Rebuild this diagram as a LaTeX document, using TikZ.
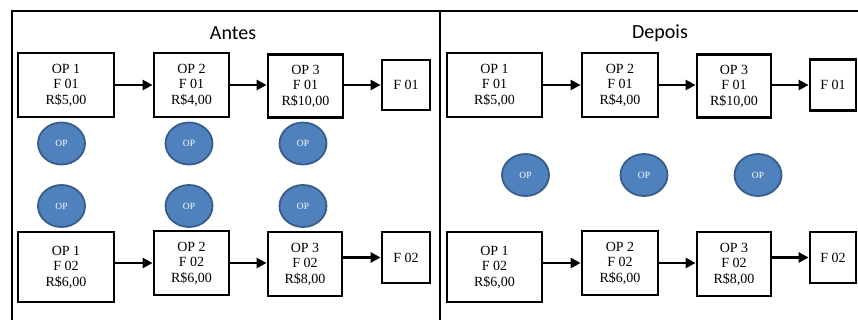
\documentclass[tikz,border=0pt]{standalone}
\usepackage{fontspec}
\setmainfont{Liberation Serif}
\newfontfamily\titlefont{Carlito}
\usetikzlibrary{arrows.meta,shapes.geometric}
\definecolor{opfill}{HTML}{4F81BD}
\definecolor{opedge}{HTML}{385D8A}
\tikzset{
  boxnode/.style={draw=black, line width=2.8pt, fill=white, align=center, inner sep=0pt,
    font=\fontsize{14}{15.5}\selectfont},
  opnode/.style={ellipse, draw=opedge, line width=1.8pt, fill=opfill, text=white,
    minimum width=47pt, minimum height=42pt, inner sep=0pt, font=\fontsize{9.5}{10}\selectfont},
  arr/.style={line width=2.8pt, -{Triangle[length=10pt,width=10pt]}},
  frame/.style={line width=2.2pt, black},
  titlenode/.style={font=\titlefont\fontsize{20}{22}\selectfont}
}
\begin{document}
\begin{tikzpicture}[x=1pt,y=-1pt]
\useasboundingbox (0,0) rectangle (858,320);
\fill[white] (0,0) rectangle (858,320);
% frame
\coordinate (tl) at (12,11);
\coordinate (tr) at (858,11);
\coordinate (bl) at (12,320);
\coordinate (dt) at (440,11);
\coordinate (db) at (440,320);
\draw[frame] (bl) -- (tl) -- (tr);
\draw[frame] (dt) -- (db);
% titles
\node[titlenode] (t1) at (233,33) {Antes};
\node[titlenode] (t2) at (660,33) {Depois};

% ---------- Antes ----------
\node[boxnode, minimum width=96pt, minimum height=64pt] (a1) at (66,85) {OP 1\\F 01\\R\$5,00};
\node[boxnode, minimum width=75pt, minimum height=64pt] (a2) at (191.5,85) {OP 2\\F 01\\R\$4,00};
\node[boxnode, minimum width=75pt, minimum height=63pt] (a3) at (305.5,86) {OP 3\\F 01\\R\$10,00};
\node[boxnode, minimum width=48pt, minimum height=50pt] (a4) at (406,85) {F 01};
\draw[arr] (a1) -- (a2);
\draw[arr] (a2.east) -- (a3.west |- a2.east);
\draw[arr] (a3.east |- a4.west) -- (a4.west);

\node[opnode] (c1) at (61.5,143.5) {OP};
\node[opnode] (c2) at (189,143.5) {OP};
\node[opnode] (c3) at (303,143.5) {OP};
\node[opnode] (c4) at (61.5,206) {OP};
\node[opnode] (c5) at (189,206) {OP};
\node[opnode] (c6) at (303,206) {OP};

\node[boxnode, minimum width=96pt, minimum height=70pt] (b1) at (66,267) {OP 1\\F 02\\R\$6,00};
\node[boxnode, minimum width=75pt, minimum height=64pt] (b2) at (191.5,263) {OP 2\\F 02\\R\$6,00};
\node[boxnode, minimum width=74pt, minimum height=64pt] (b3) at (305,264) {OP 3\\F 02\\R\$8,00};
\node[boxnode, minimum width=48pt, minimum height=51pt] (b4) at (406,257.5) {F 02};
\draw[arr] (b1.east |- b2.west) -- (b2.west);
\draw[arr] (b2.east) -- (b3.west |- b2.east);
\draw[arr] (b3.east |- b4.west) -- (b4.west);

% ---------- Depois ----------
\node[boxnode, minimum width=95pt, minimum height=64pt] (d1) at (494.5,85) {OP 1\\F 01\\R\$5,00};
\node[boxnode, minimum width=76pt, minimum height=64pt] (d2) at (620,85) {OP 2\\F 01\\R\$4,00};
\node[boxnode, minimum width=74pt, minimum height=63pt] (d3) at (734,86) {OP 3\\F 01\\R\$10,00};
\node[boxnode, minimum width=46pt, minimum height=51pt] (d4) at (833,85) {F 01};
\draw[arr] (d1) -- (d2);
\draw[arr] (d2.east) -- (d3.west |- d2.east);
\draw[arr] (d3.east |- d4.west) -- (d4.west);

\node[opnode] (e1) at (525.5,175) {OP};
\node[opnode] (e2) at (644,175) {OP};
\node[opnode] (e3) at (758,175) {OP};

\node[boxnode, minimum width=95pt, minimum height=70pt] (f1) at (494.5,267) {OP 1\\F 02\\R\$6,00};
\node[boxnode, minimum width=76pt, minimum height=64pt] (f2) at (620,263) {OP 2\\F 02\\R\$6,00};
\node[boxnode, minimum width=74pt, minimum height=64pt] (f3) at (734,264) {OP 3\\F 02\\R\$8,00};
\node[boxnode, minimum width=46pt, minimum height=51pt] (f4) at (833,257.5) {F 02};
\draw[arr] (f1.east |- f2.west) -- (f2.west);
\draw[arr] (f2.east) -- (f3.west |- f2.east);
\draw[arr] (f3.east |- f4.west) -- (f4.west);
\end{tikzpicture}
\end{document}
